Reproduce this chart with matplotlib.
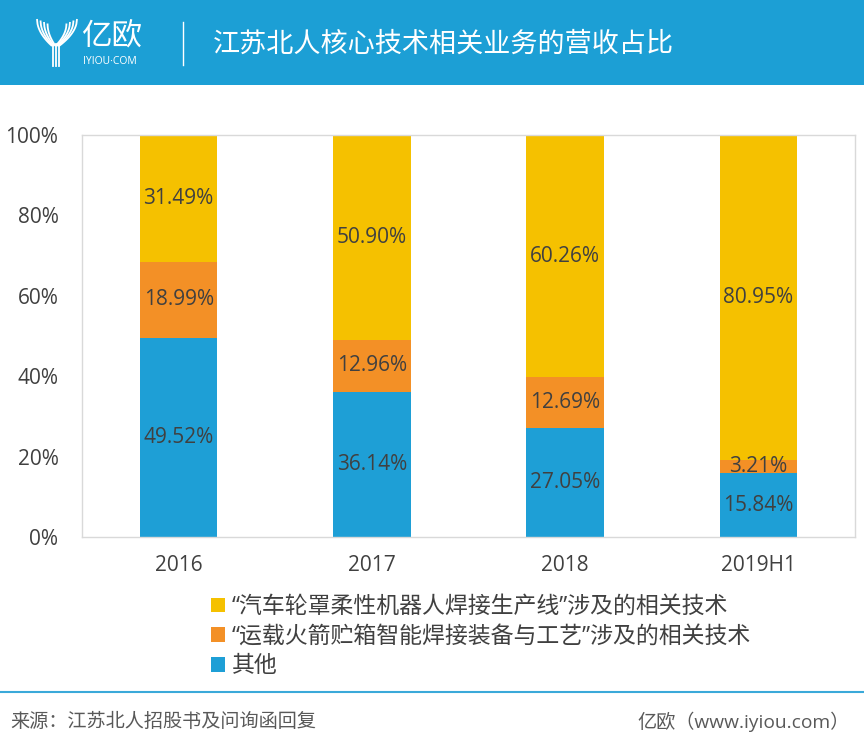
import matplotlib
matplotlib.use("Agg")
import matplotlib.pyplot as plt
import numpy as np
from matplotlib.patches import Rectangle
from matplotlib.ticker import FuncFormatter

plt.rcParams['font.family'] = ['Open Sans', 'Noto Sans CJK SC', 'DejaVu Sans']

# data (percent of revenue)
years = ['2016', '2017', '2018', '2019H1']
other_share = [49.52, 36.14, 27.05, 15.84]
rocket_share = [18.99, 12.96, 12.69, 3.21]
auto_share = [31.49, 50.90, 60.26, 80.95]
series_names = ['其他',
                '“运载火箭贮箱智能焊接装备与工艺”涉及的相关技术',
                '“汽车轮罩柔性机器人焊接生产线”涉及的相关技术']
title = '江苏北人核心技术相关业务的营收占比'
source = '来源：江苏北人招股书及问询函回复'
credit = '亿欧（www.iyiou.com）'

BLUE = '#1E9FD6'
colors = [BLUE, '#F39026', '#F5C100']
TXT = '#404040'

W, H = 864, 747
fig = plt.figure(figsize=(W / 100, H / 100), dpi=100)

# header / footer drawn in pixel coords on a background axes
bg = fig.add_axes([0, 0, 1, 1])
bg.set_xlim(0, W)
bg.set_ylim(H, 0)
bg.axis('off')
bg.add_patch(Rectangle((0, 0), W, 85, color='#1C9FD5', lw=0))

# rough version of the Y logo
t = np.linspace(0, 1, 30)
for k in range(4):
    x0, y0 = 37 + k * 3.5, 19 + k * 1.5
    xs = x0 + (52 + k * 1.2 - x0) * t
    ys = y0 + (46 - y0) * np.sqrt(t)
    bg.plot(xs, ys, color='white', lw=1.3, solid_capstyle='butt')
    x1, y1 = 77 - k * 3.5, 19 + k * 1.5
    xs = x1 + (59 - k * 1.2 - x1) * t
    ys = y1 + (46 - y1) * np.sqrt(t)
    bg.plot(xs, ys, color='white', lw=1.3, solid_capstyle='butt')
for sx in [52.5, 55.5, 58.5]:
    bg.plot([sx, sx], [44, 66], color='white', lw=1.3)

bg.text(81, 38, '亿欧', color='white', fontsize=22, va='center', ha='left')
bg.text(83, 61, 'IYIOU·COM', color='white', fontsize=7.5, va='center', ha='left')
bg.plot([183, 183], [22, 65], color='white', lw=1)
bg.text(213, 45, title, color='white', fontsize=19.5, va='center', ha='left')

bg.plot([0, W], [692, 692], color='#3AA9D9', lw=1.5)
bg.text(10, 722, source, color='#595959', fontsize=13.8, va='center', ha='left')
bg.text(850, 722, credit, color='#595959', fontsize=13.8, va='center', ha='right')

# main chart
ax = fig.add_axes([82 / W, 210 / H, 773 / W, 402 / H])
x = np.arange(len(years))
bottom = np.zeros(len(years))
handles = []
for vals, color in zip([other_share, rocket_share, auto_share], colors):
    vals = np.array(vals)
    bars = ax.bar(x, vals, 0.4, bottom=bottom, color=color, lw=0)
    ax.bar_label(bars, labels=[f'{v:.2f}%' for v in vals], label_type='center',
                 fontsize=15, color=TXT)
    handles.append(bars)
    bottom += vals

ax.set_xlim(-0.5, len(years) - 0.5)
ax.set_ylim(0, 100)
ax.set_yticks(range(0, 101, 20))
ax.yaxis.set_major_formatter(FuncFormatter(lambda v, _: f'{v:.0f}%'))
ax.set_xticks(x)
ax.set_xticklabels(years)
ax.tick_params(axis='both', length=0, labelsize=15, colors=TXT)
ax.tick_params(axis='y', pad=17)
ax.tick_params(axis='x', pad=13)
for s in ax.spines.values():
    s.set_color('#D9D9D9')
    s.set_linewidth(1)

fig.legend(handles[::-1], series_names[::-1], loc='upper left',
           bbox_to_anchor=(211 / W, 1 - 595 / H), frameon=False,
           fontsize=16.5, handlelength=0.6, handleheight=0.6, handletextpad=0.3,
           labelspacing=0.25, borderpad=0, borderaxespad=0, labelcolor=TXT)

fig.savefig('out.png', dpi=100)
